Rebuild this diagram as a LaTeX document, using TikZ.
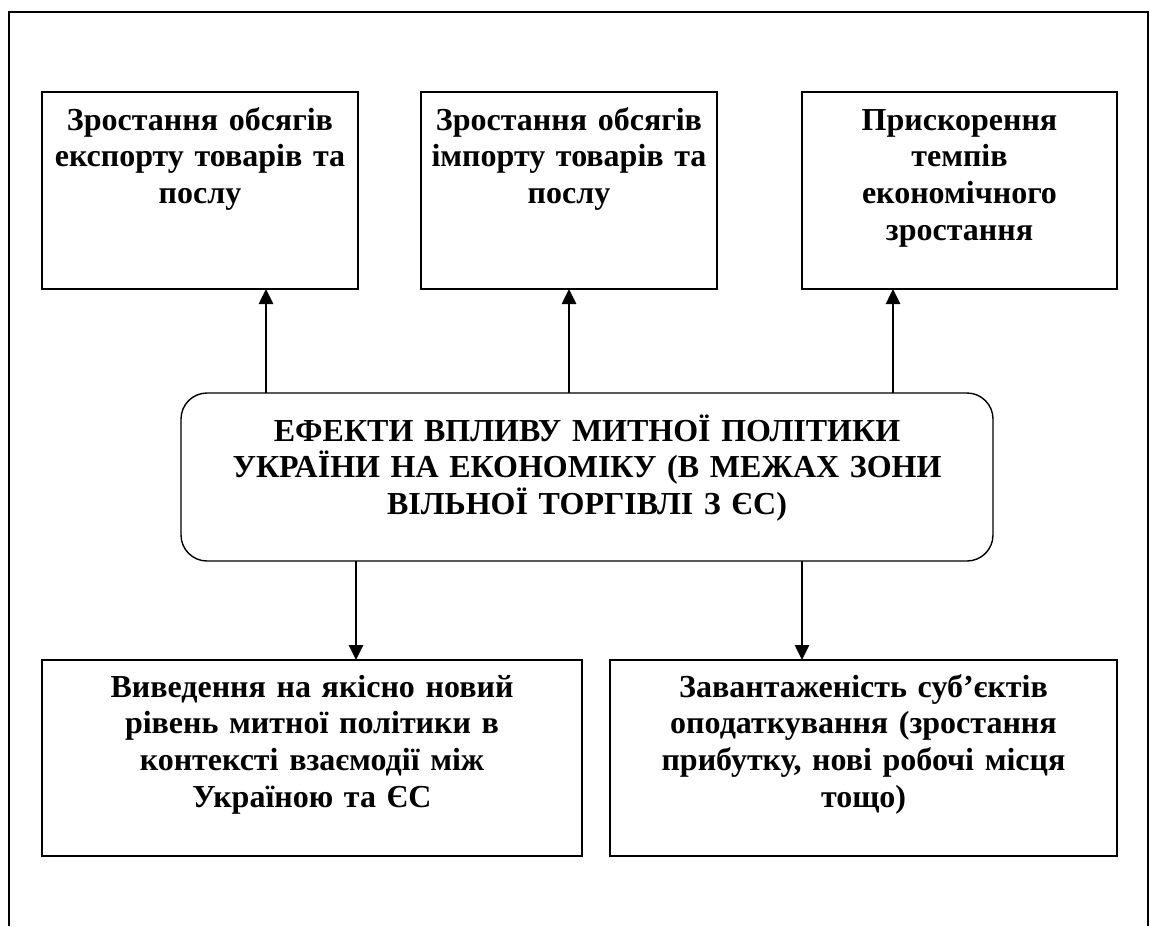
\documentclass[tikz,border=0pt]{standalone}
\usepackage{fontspec}
\setmainfont{Liberation Serif}
\usetikzlibrary{arrows.meta}
\begin{document}
\begin{tikzpicture}[x=1pt,y=-1pt,
  box/.style={draw, line width=1.4pt, inner sep=0pt, outer sep=0pt},
  hub/.style={draw, line width=1.4pt, rounded corners=26pt, inner sep=0pt, outer sep=0pt},
  lbl/.style={anchor=base, align=center, inner sep=0pt,
    font=\bfseries\fontsize{32}{36.8}\selectfont},
  arr/.style={line width=2.6pt, -{Triangle[length=15pt,width=14pt]}},
  frame/.style={line width=1.5pt}]
\useasboundingbox (0,0) rectangle (1150,926);
% open frame around the whole scheme
\coordinate (f1) at (9,926);
\coordinate (f2) at (9,12);
\coordinate (f3) at (1148,12);
\coordinate (f4) at (1148,926);
\draw[frame] (f1) -- (f2) -- (f3) -- (f4);

% upper row of effects
\node[box, minimum width=316pt, minimum height=197pt] (b1) at (200,190.5) {};
\node[box, minimum width=296pt, minimum height=197pt] (b2) at (569,190.5) {};
\node[box, minimum width=315pt, minimum height=197pt] (b3) at (959.5,190.5) {};
\node[lbl, text width=310pt] (t1) at (200,130) {Зростання обсягів\\експорту товарів та\\послу};
\node[lbl, text width=296pt] (t2) at (569,130) {Зростання обсягів\\імпорту товарів та\\послу};
\node[lbl, text width=310pt] (t3) at (959.5,130) {Прискорення\\темпів\\економічного\\зростання};

% central block
\node[hub, minimum width=812pt, minimum height=168pt] (c) at (587,477) {};
\node[lbl, text width=800pt] (tc) at (587,441) {ЕФЕКТИ ВПЛИВУ МИТНОЇ ПОЛІТИКИ\\УКРАЇНИ НА ЕКОНОМІКУ (В МЕЖАХ ЗОНИ\\ВІЛЬНОЇ ТОРГІВЛІ З ЄС)};

% lower row of effects
\node[box, minimum width=540pt, minimum height=196pt] (b4) at (312,758) {};
\node[box, minimum width=507pt, minimum height=196pt] (b5) at (863.5,758) {};
\node[lbl, text width=530pt] (t4) at (312,697) {Виведення на якісно новий\\рівень митної політики в\\контексті взаємодії між\\Україною та ЄС};
\node[lbl, text width=500pt] (t5) at (863.5,697) {Завантаженість суб’єктів\\оподаткування (зростання\\прибутку, нові робочі місця\\тощо)};

% arrow columns
\coordinate (a1) at (266,0);
\coordinate (a2) at (569,0);
\coordinate (a3) at (893,0);
\coordinate (a4) at (356,0);
\coordinate (a5) at (802,0);
\draw[arr] (c.north -| a1) -- (b1.south -| a1);
\draw[arr] (c.north -| a2) -- (b2.south -| a2);
\draw[arr] (c.north -| a3) -- (b3.south -| a3);
\draw[arr] (c.south -| a4) -- (b4.north -| a4);
\draw[arr] (c.south -| a5) -- (b5.north -| a5);
\end{tikzpicture}
\end{document}
